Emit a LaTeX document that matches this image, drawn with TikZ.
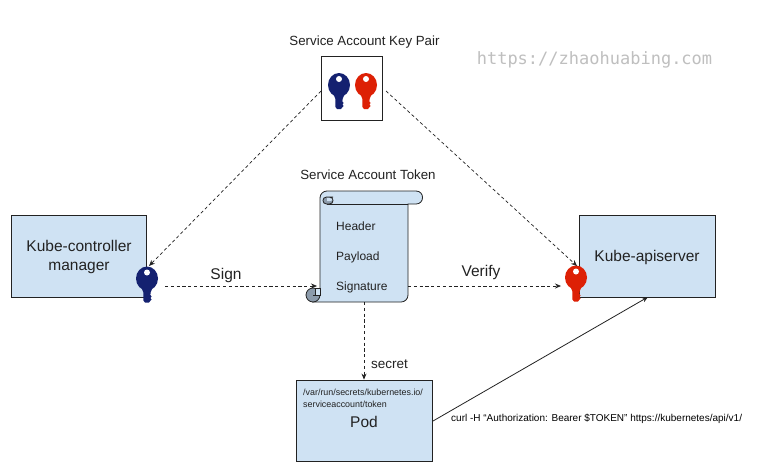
\documentclass[tikz,border=0pt]{standalone}
\usepackage{fontspec}
\setmainfont{Liberation Sans}
\newfontfamily\wmfont{DejaVu Sans Mono}
\usetikzlibrary{arrows.meta,positioning}
\definecolor{boxblue}{HTML}{CFE2F3}
\definecolor{keyblue}{HTML}{142170}
\definecolor{keyred}{HTML}{DD2005}
\definecolor{rollgray}{HTML}{8C9BAB}
\definecolor{inkdark}{HTML}{222222}
\tikzset{
  x=1pt,y=-1pt,
  bluebox/.style={draw=inkdark,fill=boxblue,line width=0.9pt,minimum width=135pt,minimum height=82pt,inner sep=0pt},
  label12/.style={inner sep=0pt,text=inkdark,font=\fontsize{13.3}{16}\selectfont},
  label14/.style={inner sep=0pt,text=inkdark,align=center,font=\fontsize{15.5}{19}\selectfont},
  label10/.style={inner sep=0pt,text=inkdark,font=\fontsize{12}{14}\selectfont,anchor=west},
  dashconn/.style={draw=inkdark,line width=0.7pt,dash pattern=on 3.2pt off 2.6pt,-{Stealth[length=6pt,width=5pt]}},
  solidconn/.style={draw=inkdark,line width=0.8pt,-{Stealth[length=6pt,width=5pt]}},
  scrollline/.style={draw=inkdark,line width=0.8pt},
  keyshape/.pic={
    \fill[pic actions] (0,0) ellipse[x radius=11,y radius=12];
    \fill[pic actions] (-6,8) -- (-3.6,14) -- (-3.6,22) -- (-2,24) -- (2,24) -- (3.6,22) -- (4.6,21) -- (3.4,19.5) -- (4.6,18) -- (3.4,16.5) -- (3.6,14) -- (6,8) -- cycle;
    \fill[white] (0,-6) circle[radius=3];
  }
}
\begin{document}
\begin{tikzpicture}
\useasboundingbox (0,0) rectangle (779,472);
\fill[white] (0,0) rectangle (779,472);
% watermark
\node[inner sep=0pt,text=black!25,font=\wmfont\fontsize{17}{20}\selectfont] (wm) at (594.5,60) {https://zhaohuabing.com};
% boxes
\node[bluebox] (kcm) at (78.5,256) {};
\node[label14] (kcmt) at (79,257) {Kube-controller\\manager};
\node[bluebox,minimum width=136pt] (api) at (647,256) {};
\node[label14] (apit) at (647,257) {Kube-apiserver};
\node[bluebox,minimum width=136pt,minimum height=81pt] (pod) at (364,420.5) {};
\node[label14] (podt) at (364,422) {Pod};
\node[inner sep=0pt,text=inkdark,align=left,anchor=north west,font=\fontsize{8.9}{12}\selectfont] (path) at (303,389) {/var/run/secrets/kubernetes.io/\\serviceaccount/token};
% key pair
\node[draw=inkdark,fill=white,line width=0.9pt,minimum width=61pt,minimum height=64pt,inner sep=0pt] (pair) at (351.5,88) {};
\node[label12] (pairt) at (364.5,42) {Service Account Key Pair};
\pic[fill=keyblue] at (339,85) {keyshape};
\pic[fill=keyred] at (366,85) {keyshape};
% scroll body and rolled top
\filldraw[fill=boxblue,scrollline] (320,295) -- (320,198) .. controls (320,194.1) and (323.1,191) .. (327,191) -- (416,191) .. controls (424.7,191) and (424.7,204) .. (416,204) -- (408,204) -- (408,295) .. controls (408,298.9) and (404.9,302) .. (401,302) -- (313,302) -- cycle;
\draw[scrollline] (408,204) -- (327,204);
% top curl
\filldraw[fill=rollgray,scrollline] (333,197) -- (326.5,197) .. controls (321.8,197) and (321.8,204) .. (326.5,204) -- (329.5,204) .. controls (334.2,204) and (334.2,197) .. (329.5,197);
\fill[boxblue] (327,198.2) -- (330,198.2) .. controls (332.8,198.2) and (332.8,201) .. (330,201) -- (327,201) -- cycle;
% bottom curl
\filldraw[fill=rollgray,scrollline] (313,295) circle[radius=7];
\filldraw[fill=boxblue,scrollline] (315,288) rectangle (320,295);
\draw[scrollline] (320,295) -- (313,295);
\coordinate (tokl) at (317,286);
\coordinate (tokr) at (408,286);
\coordinate (tokb) at (364,302);
\node[label12] (tokt) at (368,174.5) {Service Account Token};
\node[label10] (hdr) at (336,226.5) {Header};
\node[label10] (pay) at (336,257) {Payload};
\node[label10] (sig) at (336,287.5) {Signature};
% keys on boxes
\pic[fill=keyblue] at (147,278.5) {keyshape};
\pic[fill=keyred] at (576,277.5) {keyshape};
\coordinate (klt) at (149,266);
\coordinate (klr) at (165,286);
\coordinate (krt) at (577,266);
\coordinate (krl) at (561,286);
\coordinate (pairl) at (321,91);
\coordinate (pairr) at (386,91);
\coordinate (podr) at (433,421);
\coordinate (apib) at (648,297);
% connectors
\draw[dashconn] (pairl) -- (klt);
\draw[dashconn] (pairr) -- (krt);
\draw[dashconn] (klr) -- (tokl);
\draw[dashconn] (tokr) -- (krl);
\draw[dashconn] (tokb) -- (pod.north);
\draw[solidconn] (podr) -- (apib);
% labels
\node[label14] (signt) at (226,275) {Sign};
\node[label14] (veri) at (481,272) {Verify};
\node[inner sep=0pt,text=inkdark,font=\fontsize{13.5}{16}\selectfont] (secr) at (389.5,364) {secret};
\node[inner sep=0pt,text=black,anchor=west,font=\fontsize{10}{12}\selectfont] (curl) at (451,418.5) {curl -H “Authorization: Bearer \$TOKEN” https://kubernetes/api/v1/};
\end{tikzpicture}
\end{document}
